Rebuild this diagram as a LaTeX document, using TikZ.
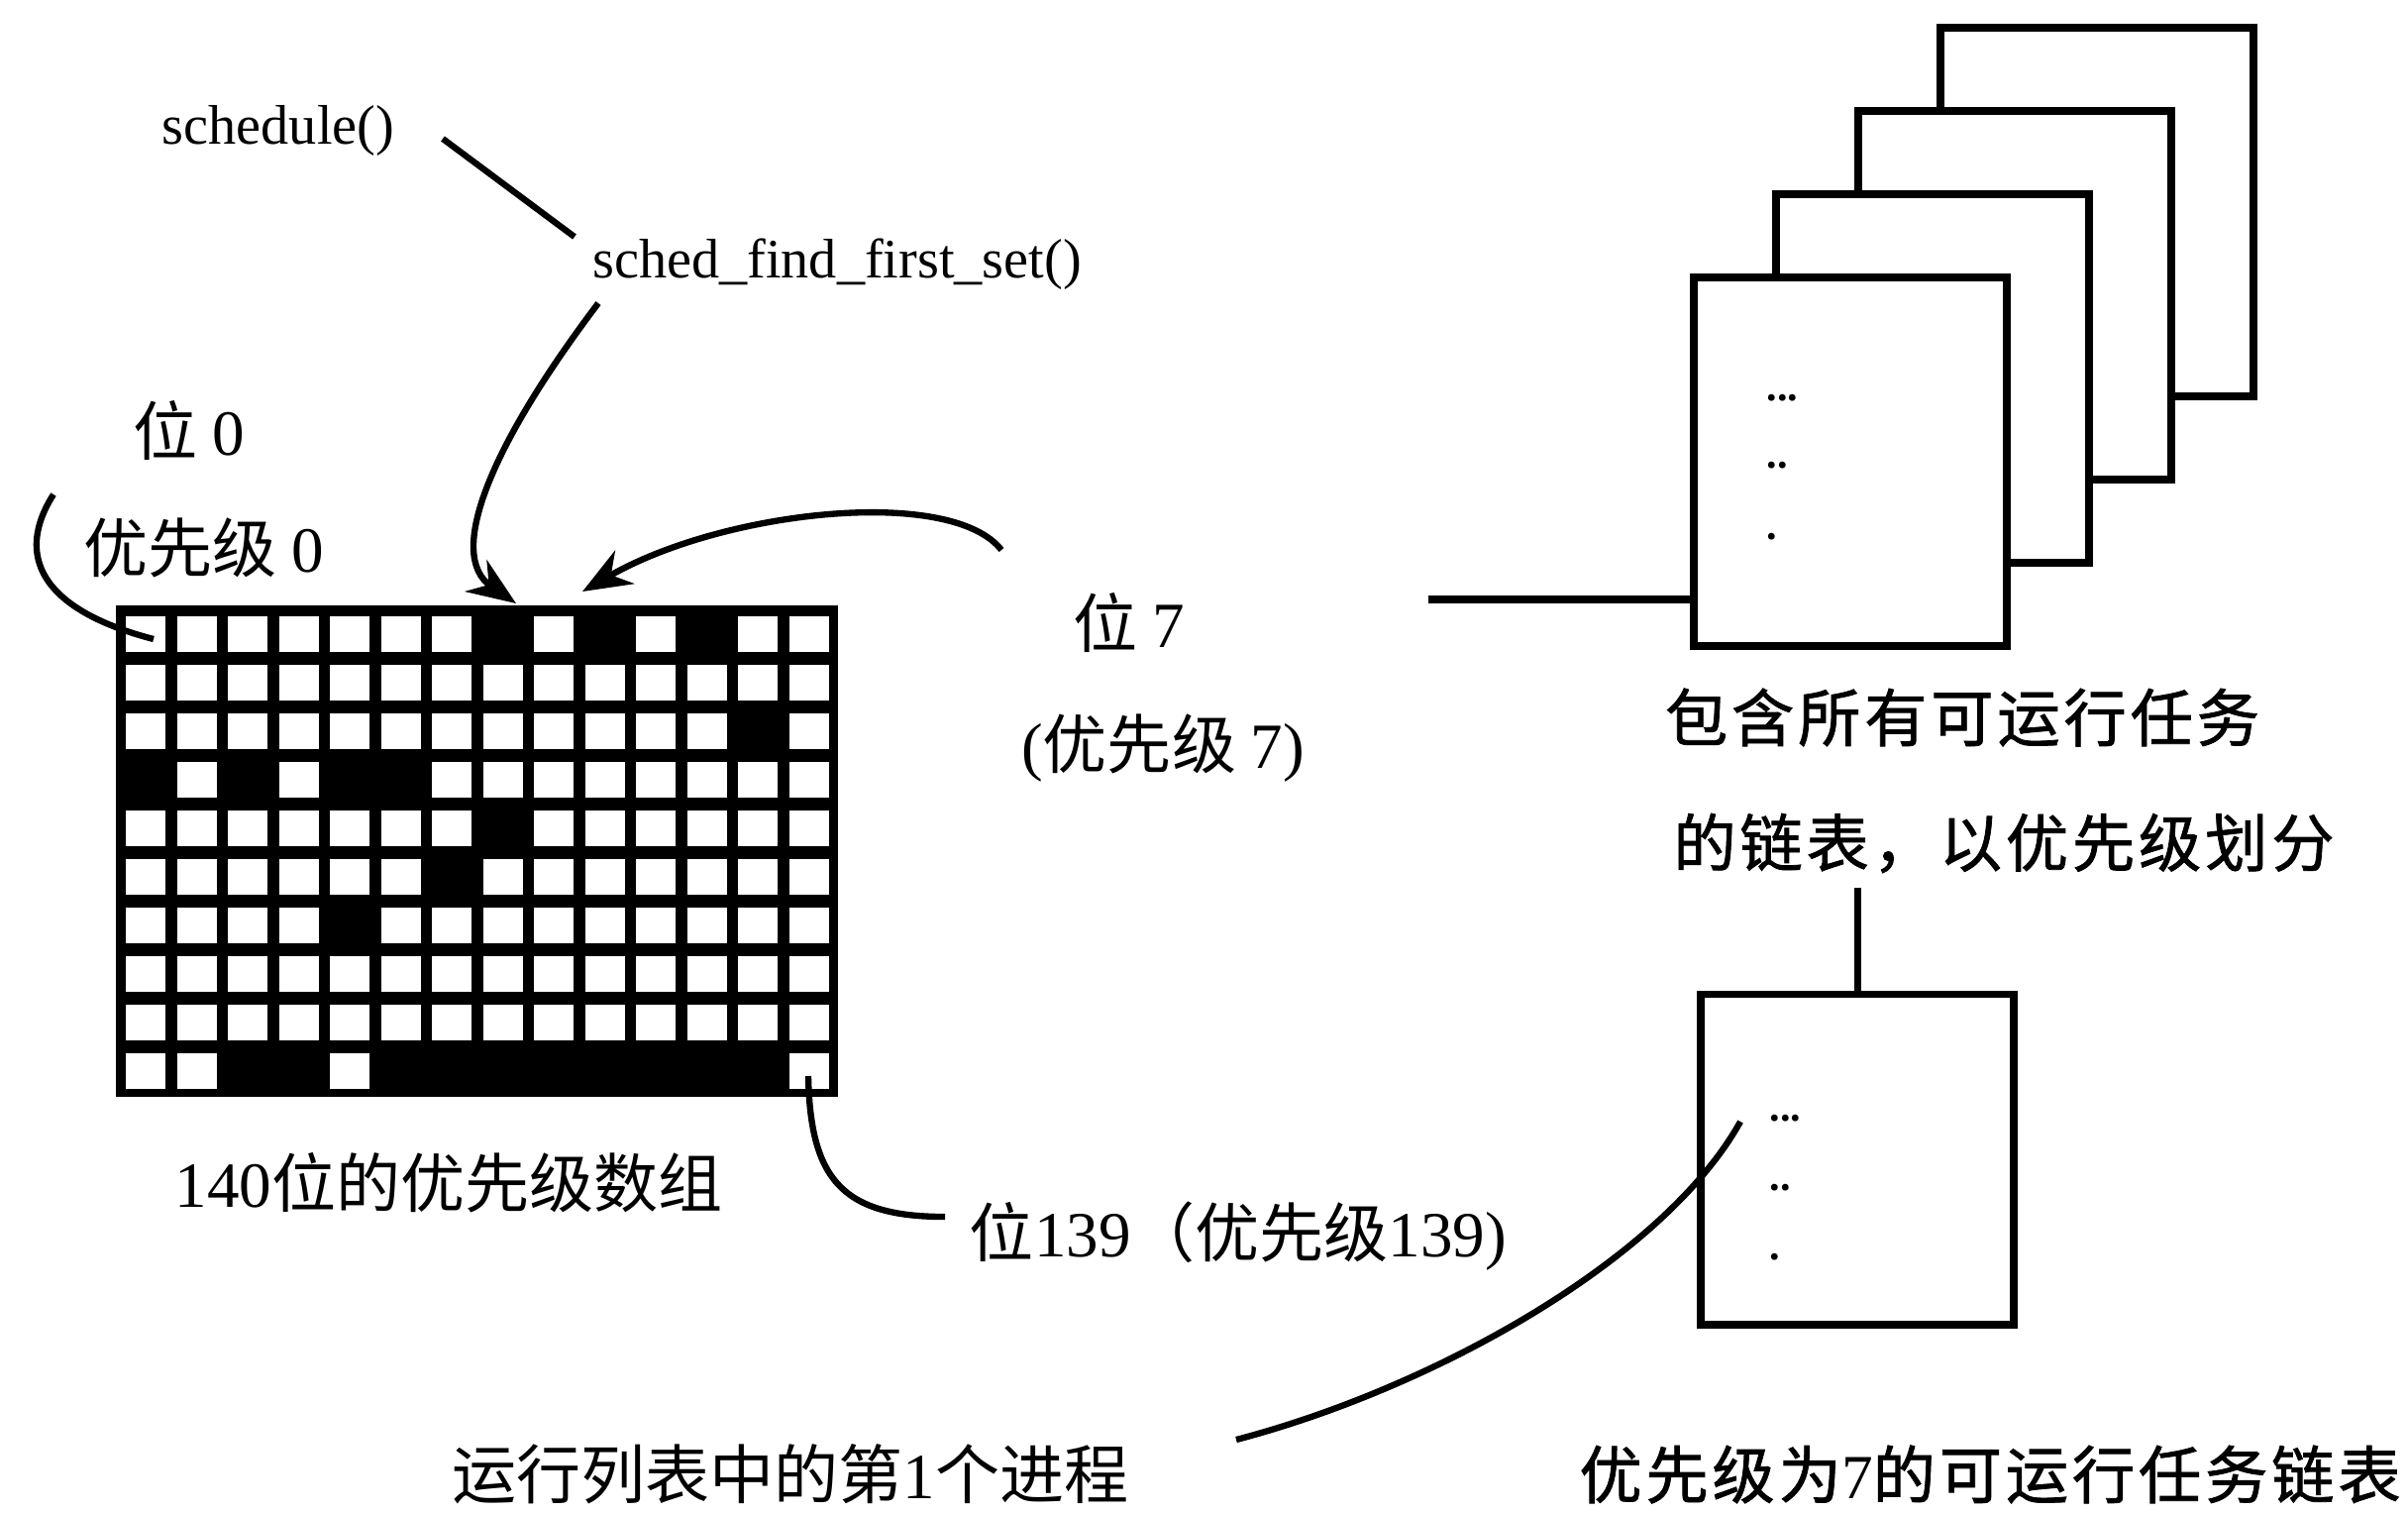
\documentclass[tikz,border=0pt]{standalone}
\usepackage{fontspec}
\setmainfont{Liberation Serif}
\newfontfamily\cjk{Noto Sans CJK SC}
\newfontfamily\cjkm{Noto Sans CJK SC}[FakeBold=1.2,LetterSpace=6]
\usetikzlibrary{arrows.meta}
\newcommand\digs[1]{{\rmfamily #1}}
\tikzset{
 lbl/.style={inner sep=0pt, font=\fontsize{16}{18}\selectfont},
 zh/.style={inner sep=0pt, font=\cjk\fontsize{18.5}{20}\selectfont},
 zhb/.style={inner sep=0pt, font=\cjkm\fontsize{18}{20}\selectfont},
 conn/.style={line width=1.8pt},
 arr/.style={conn, -{Stealth[length=14pt,width=11pt]}},
 card/.style={draw, line width=2.2pt, fill=white, minimum width=3.16cm, inner sep=0pt},
 dotl/.style={inner sep=0pt, anchor=base west, font=\bfseries\fontsize{12}{12}\selectfont},
 cell/.style={fill=white},
}
\begin{document}
\begin{tikzpicture}[x=0.01cm,y=-0.01cm]
\useasboundingbox (0,0) rectangle (2431,1526);
% ---- priority bitmap ----
\node[fill=black, inner sep=0pt, minimum width=7.29cm, minimum height=4.96cm] (grid) at (481.5,859) {};
\foreach \r in {0,...,9}{\foreach \c in {0,...,13}{
  \fill[cell] ({127+51.5*\c},{622+49*\r}) rectangle ++(40,36);
}}
\foreach \r/\c in {0/7,0/9,0/11,2/12,3/0,3/2,3/4,3/5,4/7,5/6,6/4,9/2,9/3,9/5,9/6,9/7,9/8,9/9,9/10,9/11,9/12}{
  \fill[black] ({126+51.5*\c},{621+49*\r}) rectangle ++(42,38);
}
% ---- labels ----
\node[lbl] (sched) at (281,132) {schedule()};
\node[lbl] (sffs) at (845,267) {sched\_find\_first\_set()};
\node[zh] (bit0) at (191,434) {位 \digs{0}};
\node[zh] (prio0) at (206,553) {优先级 \digs{0}};
\node[zh] (bit7) at (1140,628) {位 \digs{7}};
\node[zh] (prio7) at (1174,755) {\digs{(}优先级 \digs{7)}};
\node[zh] (arrlbl) at (453,1194) {\digs{140}位的优先级数组};
\node[zh] (bit139) at (1250,1248) {位\digs{139}（优先级\digs{139)}};
\node[zh] (first) at (798,1488) {运行列表中的第\digs{1}个进程};
\node[zhb] (all1) at (1981,724) {包含所有可运行任务};
\node[zhb] (all2) at (2023,851) {的链表，以优先级划分};
\node[zhb] (p7) at (2009,1488) {优先级为\digs{7}的可运行任务链表};
% ---- stacked lists ----
\node[card, minimum height=3.72cm] (box4) at (2117,214) {};
\node[card, minimum height=3.72cm] (box3) at (2034,298) {};
\node[card, minimum height=3.72cm] (box2) at (1951,382) {};
\node[card, minimum height=3.72cm] (box1) at (1868,466) {};
\node[dotl] (d1a) at (1783,404) {...};
\node[dotl] (d1b) at (1783,472) {..};
\node[dotl] (d1c) at (1783,544) {.};
\node[card, minimum height=3.33cm] (box5) at (1875,1170) {};
\node[dotl] (d5a) at (1786,1131) {...};
\node[dotl] (d5b) at (1786,1201) {..};
\node[dotl] (d5c) at (1786,1271) {.};
% ---- connector end points ----
\coordinate (s1) at (447,140);
\coordinate (s2) at (580,239);
\coordinate (f1) at (604,306);
\coordinate (t1) at (521,609);
\coordinate (p1) at (1011,555);
\coordinate (t2) at (588,597);
\coordinate (b0s) at (54,499);
\coordinate (b0e) at (155,645);
\coordinate (b139s) at (816,1086);
\coordinate (b139e) at (954,1228);
\coordinate (hl) at (1442,605);
\coordinate (vl) at (1875,896);
\coordinate (fs) at (1248,1453);
\coordinate (fe) at (1757,1132);
% ---- connectors ----
\draw[conn] (s1) -- (s2);
\draw[arr] (f1) .. controls (495,450) and (450,560) .. (t1);
\draw[arr] (p1) .. controls (960,490) and (730,515) .. (t2);
\draw[conn] (b0s) .. controls (15,560) and (40,615) .. (b0e);
\draw[conn] (b139s) .. controls (818,1190) and (850,1228) .. (b139e);
\draw[line width=2.2pt] (hl) -- (hl -| box1.west);
\draw[line width=2pt] (vl) -- (box5.north);
\draw[conn] (fs) .. controls (1450,1400) and (1680,1270) .. (fe);
\end{tikzpicture}
\end{document}
